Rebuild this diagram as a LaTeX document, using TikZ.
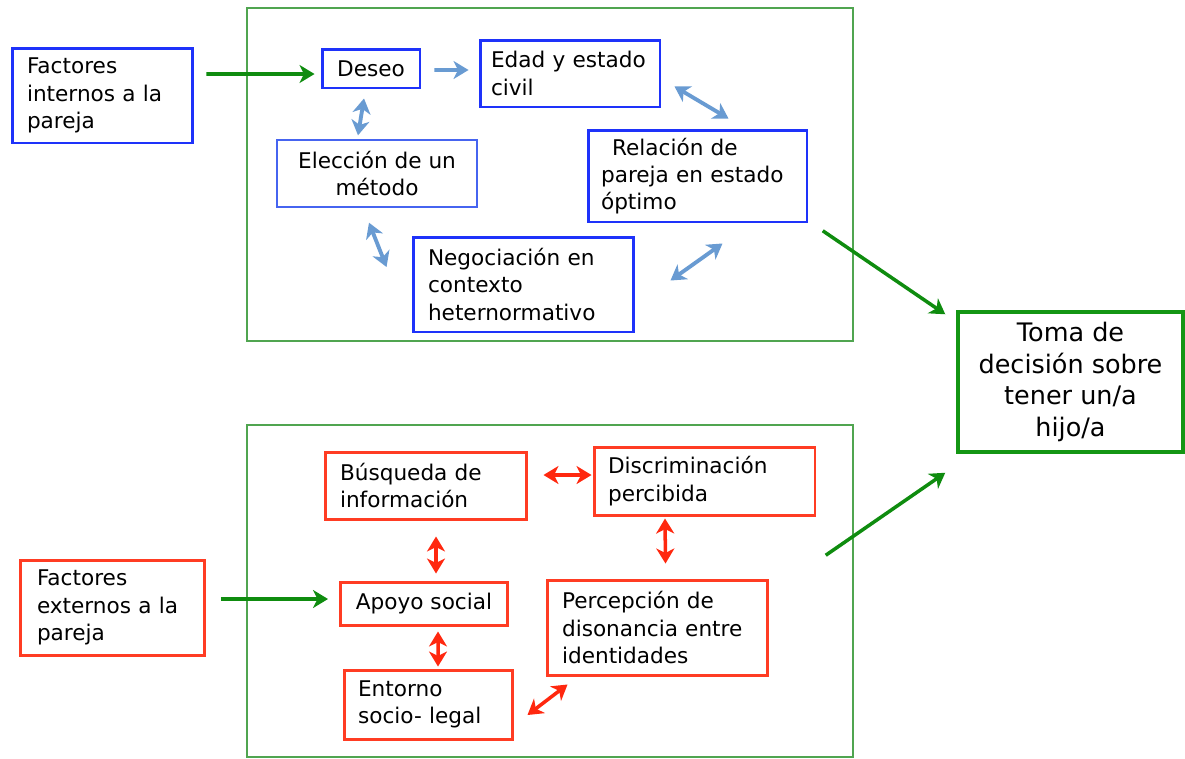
\documentclass[tikz,border=0pt]{standalone}
\usepackage{fontspec}
\setmainfont{DejaVu Sans}
\usetikzlibrary{arrows.meta}
\definecolor{boxblue}{RGB}{30,50,250}
\definecolor{lightblue}{RGB}{70,100,240}
\definecolor{arrowblue}{RGB}{105,155,210}
\definecolor{boxred}{RGB}{255,60,35}
\definecolor{arrowred}{RGB}{255,40,15}
\definecolor{arrowgreen}{RGB}{15,140,15}
\definecolor{framegreen}{RGB}{80,165,80}
\definecolor{tomagreen}{RGB}{20,150,20}
\tikzset{
  frame/.style={draw=framegreen, line width=0.9pt},
  bluebox/.style={draw=boxblue, line width=1.7pt, align=left},
  redbox/.style={draw=boxred, line width=1.7pt, align=left},
  tip/.tip={Stealth[length=0.3cm,width=0.36cm,inset=0.09cm]},
  garrow/.style={draw=arrowgreen, line width=2pt, -tip},
  bsingle/.style={draw=arrowblue, line width=2.2pt, -tip},
  barrow/.style={draw=arrowblue, line width=2.2pt, tip-tip},
  rarrow/.style={draw=arrowred, line width=2pt, tip-tip}
}
\begin{document}
\begin{tikzpicture}[x=0.02cm, y=-0.02cm, font=\fontsize{12.3}{15.5}\selectfont]
\useasboundingbox (0,0) rectangle (1185,758);
% frames
\node [frame, minimum width=12.12cm, minimum height=6.66cm] (upframe) at (550,174.5) {};
\node [frame, minimum width=12.12cm, minimum height=6.64cm] (lowframe) at (550,591) {};
% internal factors
\node [bluebox, inner xsep=0.30cm, text width=3.02cm, minimum height=1.90cm] (fint) at (102.5,95.5) {Factores\\internos a la\\pareja};
\node [bluebox, minimum width=1.96cm, minimum height=0.78cm, align=center] (deseo) at (371,68.5) {Deseo};
\node [bluebox, inner xsep=0.22cm, text width=3.16cm, minimum height=1.34cm] (edad) at (570,73.5) {Edad y estado\\civil};
\node [bluebox, draw=lightblue, line width=0.8pt, minimum width=4.00cm, minimum height=1.34cm, align=center] (eleccion) at (377,173.5) {Elección de un\\método};
\node [bluebox, inner xsep=0.26cm, text width=3.86cm, minimum height=1.84cm] (relacion) at (697.5,176) {\hspace*{0.22cm}Relación de\\pareja en estado\\óptimo};
\node [bluebox, inner xsep=0.30cm, text width=3.82cm, minimum height=1.90cm] (negoc) at (523.5,284.5) {Negociación en\\contexto\\heternormativo};
% decision
\node [draw=tomagreen, line width=2pt, minimum width=4.50cm, minimum height=2.80cm, align=center, font=\fontsize{14.5}{18}\selectfont] (toma) at (1070.5,382) {Toma de\\decisión sobre\\tener un/a\\hijo/a};
% external factors
\node [redbox, inner xsep=0.34cm, text width=3.02cm, minimum height=1.90cm] (fext) at (112.5,607.5) {Factores\\externos a la\\pareja};
\node [redbox, inner xsep=0.30cm, text width=3.44cm, minimum height=1.34cm] (busq) at (426,485.5) {Búsqueda de\\información};
\node [redbox, inner xsep=0.28cm, text width=3.86cm, minimum height=1.36cm] (discr) at (704.5,481) {Discriminación\\percibida};
\node [redbox, minimum width=3.36cm, minimum height=0.86cm, align=center] (apoyo) at (424,603.5) {Apoyo social};
\node [redbox, inner xsep=0.30cm, text width=3.82cm, minimum height=1.90cm] (percep) at (657.5,627.5) {Percepción de\\disonancia entre\\identidades};
\node [redbox, inner xsep=0.28cm, text width=2.82cm, minimum height=1.38cm] (entorno) at (428.5,704.5) {Entorno\\socio- legal};
% green arrows
\draw [garrow] ([shift={(12,-21.5)}]fint.east) -- ([shift={(-6,5.5)}]deseo.west);
\draw [garrow] ([shift={(14.5,-8.5)}]fext.east) -- ([shift={(-10.5,-4.5)}]apoyo.west);
\draw [garrow] ([shift={(-31,-111)}]upframe.south east) -- ([shift={(-11,4)}]toma.north west);
\draw [garrow] ([shift={(-28,131)}]lowframe.north east) -- ([shift={(-11,19)}]toma.south west);
% blue arrows
\draw [bsingle] ([shift={(13,1.5)}]deseo.east) -- ([shift={(-10,-3.5)}]edad.west);
\draw [barrow] ([shift={(-7,9)}]deseo.south) -- ([shift={(-19,-4)}]eleccion.north);
\draw [barrow] ([shift={(-8,15)}]eleccion.south) -- ([shift={(-25,-17.5)}]negoc.west);
\draw [barrow] ([shift={(13,-22)}]edad.south east) -- ([shift={(31,-10)}]relacion.north);
\draw [barrow] ([shift={(25,20)}]relacion.south) -- ([shift={(35,45)}]negoc.north east);
% red arrows
\draw [rarrow] ([shift={(15,-10.5)}]busq.east) -- ([shift={(-1,-6)}]discr.west);
\draw [rarrow] ([shift={(10,16)}]busq.south) -- ([shift={(12,-7)}]apoyo.north);
\draw [rarrow] ([shift={(-39.5,2)}]discr.south) -- ([shift={(8,-15)}]percep.north);
\draw [rarrow] ([shift={(14,5)}]apoyo.south) -- ([shift={(9.5,-2)}]entorno.north);
\draw [rarrow] ([shift={(13,10.5)}]entorno.east) -- ([shift={(22,8)}]percep.south west);
\end{tikzpicture}
\end{document}
